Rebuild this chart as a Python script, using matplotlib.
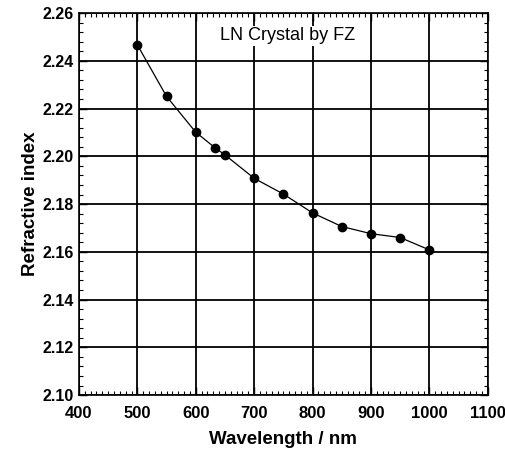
import matplotlib
matplotlib.use("Agg")
import matplotlib.pyplot as plt
from matplotlib.ticker import MultipleLocator

# === DATA ===
wavelength = [500, 550, 600, 633, 650, 700, 750, 800, 850, 900, 950, 1000]
refr_index = [2.2467, 2.2251, 2.2101, 2.2036, 2.2006, 2.1908, 2.1842,
              2.1763, 2.1706, 2.1676, 2.1660, 2.1608]
label_text = "LN Crystal by FZ"

plt.rcParams['font.family'] = ['Liberation Sans', 'DejaVu Sans']

fig = plt.figure(figsize=(5.06, 4.51), dpi=100)
ax = fig.add_axes([0.156, 0.124, 0.808, 0.847])

# major grid, black and heavy like the scanned original
ax.grid(True, which='major', color='black', linewidth=1.3)
ax.set_axisbelow(True)

ax.plot(wavelength, refr_index, color='black', linewidth=0.9,
        marker='o', markersize=6, markerfacecolor='black')

ax.set_xlim(400, 1100)
ax.set_ylim(2.10, 2.26)
ax.xaxis.set_major_locator(MultipleLocator(100))
ax.xaxis.set_minor_locator(MultipleLocator(10))
ax.yaxis.set_major_locator(MultipleLocator(0.02))
ax.yaxis.set_minor_locator(MultipleLocator(0.004))
ax.yaxis.set_major_formatter(plt.FormatStrFormatter('%.2f'))

ax.tick_params(which='both', direction='in', top=True, right=True, color='black')
ax.tick_params(which='major', length=6, width=1.0)
ax.tick_params(which='minor', length=3, width=0.8)
ax.tick_params(axis='x', which='major', labelsize=12, pad=8)
ax.tick_params(axis='y', which='major', labelsize=11.5, pad=4)
for lbl in ax.get_xticklabels() + ax.get_yticklabels():
    lbl.set_fontweight('bold')

for spine in ax.spines.values():
    spine.set_linewidth(1.2)

ax.set_xlabel("Wavelength / nm", fontsize=13.5, fontweight='bold', labelpad=7)
ax.set_ylabel("Refractive index", fontsize=13.5, fontweight='bold', labelpad=2)

ax.text(758, 2.2505, label_text, ha='center', va='center', fontsize=13,
        bbox=dict(facecolor='white', edgecolor='none', pad=1))

fig.savefig("out.png", dpi=100)
